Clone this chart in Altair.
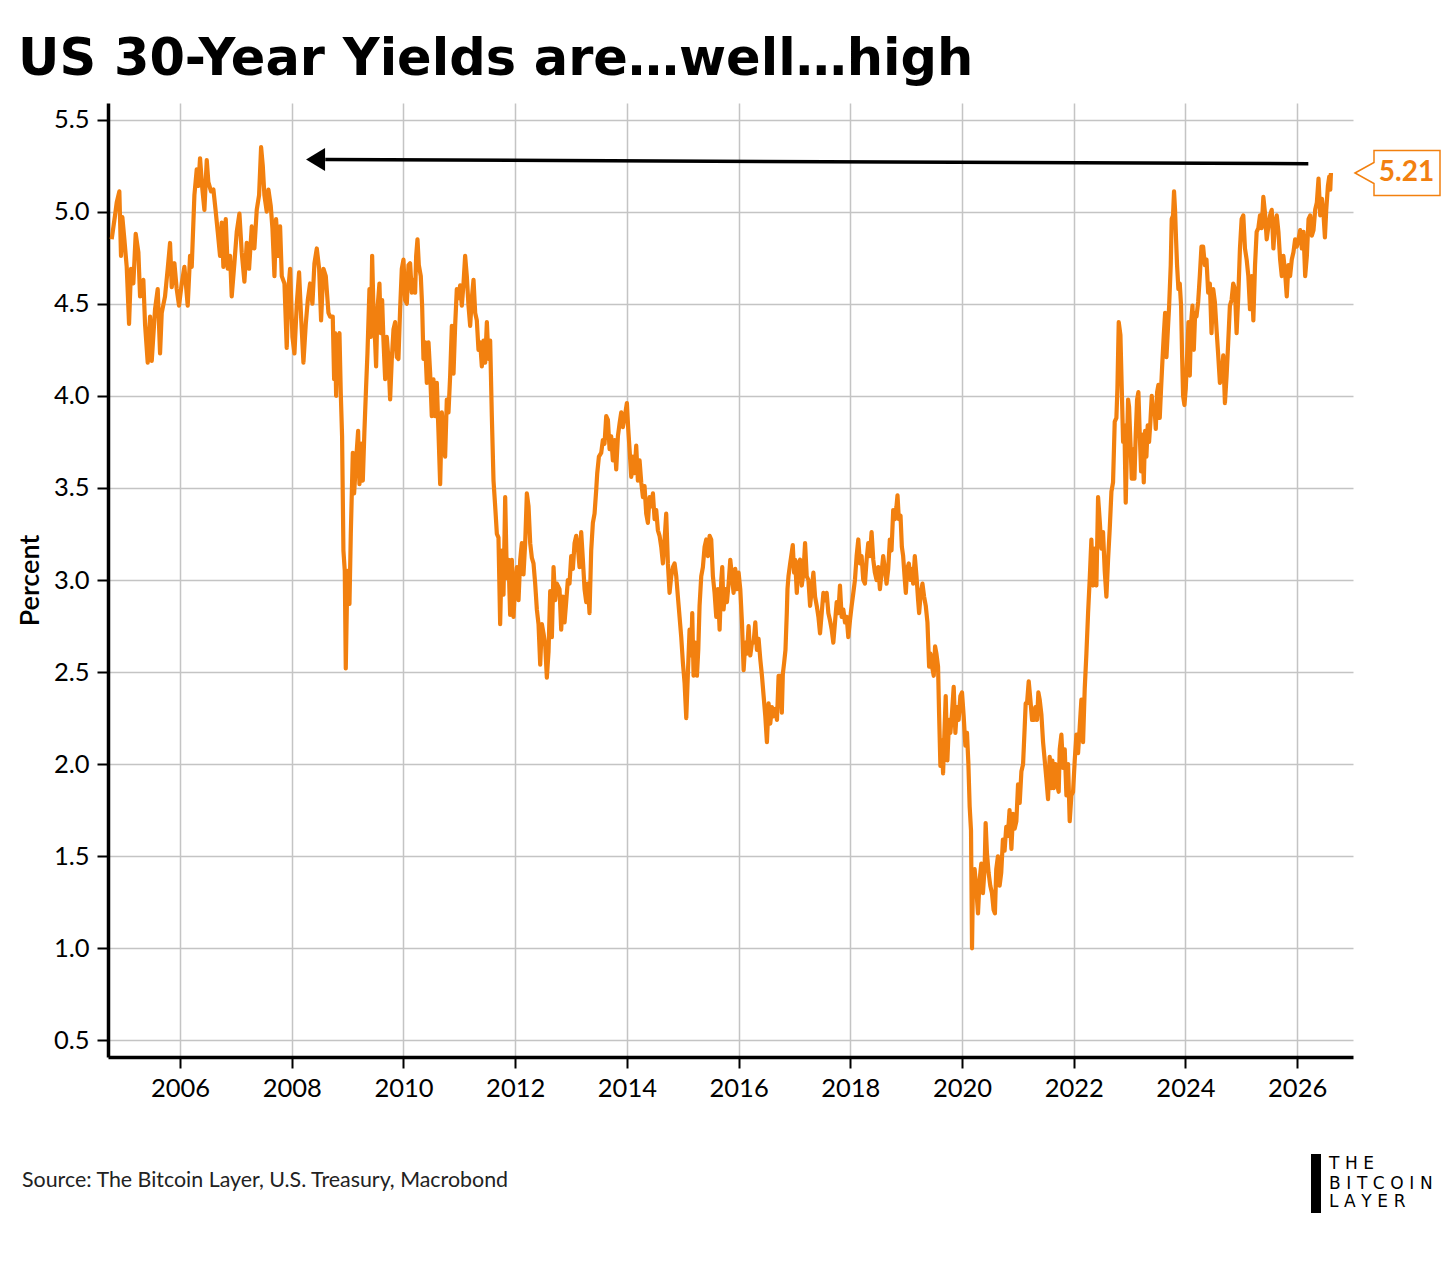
import altair as alt
import pandas as pd

TITLE = "US 30-Year Yields are\u2026well\u2026high"
Y_TITLE = "Percent"
SOURCE = "Source: The Bitcoin Layer, U.S. Treasury, Macrobond"
LOGO_LINES = ["THE", "BITCOIN", "LAYER"]

x_ticks = [2006, 2008, 2010, 2012, 2014, 2016, 2018, 2020, 2022, 2024, 2026]
y_ticks = [0.5, 1.0, 1.5, 2.0, 2.5, 3.0, 3.5, 4.0, 4.5, 5.0, 5.5]
x_domain = [2004.71, 2027.0]
y_domain = [0.41, 5.59]

# (decimal year, percent)
yields_2004_2008 = [
    (2004.776, 4.85), (2004.836, 4.98), (2004.866, 5.05), (2004.913, 5.11), (2004.943, 4.76),
    (2004.967, 4.97), (2005.003, 4.85), (2005.045, 4.70), (2005.087, 4.39), (2005.122, 4.69),
    (2005.164, 4.61), (2005.206, 4.88), (2005.254, 4.78), (2005.284, 4.54), (2005.343, 4.63),
    (2005.373, 4.39), (2005.421, 4.18), (2005.463, 4.43), (2005.493, 4.19), (2005.552, 4.47),
    (2005.600, 4.58), (2005.642, 4.23), (2005.672, 4.45), (2005.731, 4.54), (2005.779, 4.69),
    (2005.821, 4.83), (2005.851, 4.59), (2005.899, 4.72), (2005.940, 4.58), (2005.982, 4.49),
    (2006.030, 4.61), (2006.078, 4.70), (2006.137, 4.49), (2006.179, 4.76), (2006.209, 4.70),
    (2006.257, 5.09), (2006.299, 5.23), (2006.328, 5.14), (2006.358, 5.29), (2006.400, 5.12),
    (2006.436, 5.01), (2006.478, 5.28), (2006.507, 5.16), (2006.555, 5.11), (2006.597, 5.12),
    (2006.639, 5.00), (2006.675, 4.89), (2006.716, 4.76), (2006.746, 4.94), (2006.776, 4.70),
    (2006.818, 4.96), (2006.854, 4.69), (2006.896, 4.76), (2006.925, 4.54), (2006.973, 4.72),
    (2007.015, 4.89), (2007.063, 4.99), (2007.104, 4.78), (2007.152, 4.62), (2007.194, 4.83),
    (2007.236, 4.69), (2007.284, 4.92), (2007.331, 4.80), (2007.373, 5.01), (2007.415, 5.09),
    (2007.451, 5.35), (2007.481, 5.25), (2007.510, 5.09), (2007.552, 5.00), (2007.582, 5.12),
    (2007.624, 5.03), (2007.654, 4.91), (2007.690, 4.65), (2007.719, 4.96), (2007.761, 4.76),
    (2007.791, 4.92), (2007.821, 4.65), (2007.869, 4.61), (2007.910, 4.26), (2007.940, 4.58),
    (2007.970, 4.69), (2008.012, 4.32), (2008.048, 4.23), (2008.090, 4.50), (2008.131, 4.67),
    (2008.167, 4.43), (2008.209, 4.18), (2008.251, 4.39), (2008.287, 4.52), (2008.328, 4.61),
    (2008.370, 4.50), (2008.406, 4.72), (2008.448, 4.80), (2008.490, 4.69), (2008.525, 4.41),
    (2008.567, 4.69), (2008.609, 4.65), (2008.657, 4.45),
]

yields_2008_2012 = [
    (2008.687, 4.43), (2008.734, 4.43), (2008.758, 4.09), (2008.776, 4.34), (2008.794, 4.00),
    (2008.818, 4.31), (2008.854, 4.34), (2008.878, 4.01), (2008.901, 3.78), (2008.925, 3.16),
    (2008.949, 3.05), (2008.967, 2.52), (2008.997, 3.05), (2009.033, 2.87), (2009.057, 3.25),
    (2009.093, 3.69), (2009.116, 3.47), (2009.152, 3.65), (2009.188, 3.81), (2009.212, 3.52),
    (2009.242, 3.74), (2009.272, 3.54), (2009.301, 3.81), (2009.331, 4.05), (2009.355, 4.23),
    (2009.391, 4.58), (2009.415, 4.32), (2009.439, 4.76), (2009.463, 4.47), (2009.493, 4.29),
    (2009.510, 4.16), (2009.534, 4.47), (2009.570, 4.61), (2009.594, 4.34), (2009.618, 4.52),
    (2009.642, 4.30), (2009.672, 4.09), (2009.701, 4.32), (2009.731, 4.20), (2009.761, 3.98),
    (2009.791, 4.20), (2009.821, 4.36), (2009.851, 4.40), (2009.881, 4.21), (2009.910, 4.20),
    (2009.940, 4.47), (2009.970, 4.69), (2010.000, 4.74), (2010.030, 4.52), (2010.060, 4.50),
    (2010.090, 4.71), (2010.119, 4.72), (2010.149, 4.56), (2010.179, 4.63), (2010.209, 4.56),
    (2010.227, 4.76), (2010.251, 4.85), (2010.275, 4.71), (2010.310, 4.65), (2010.334, 4.49),
    (2010.358, 4.20), (2010.388, 4.29), (2010.418, 4.07), (2010.448, 4.29), (2010.478, 4.12),
    (2010.507, 3.89), (2010.537, 4.09), (2010.567, 3.89), (2010.597, 4.07), (2010.627, 3.80),
    (2010.657, 3.52), (2010.687, 3.91), (2010.716, 3.80), (2010.746, 3.67), (2010.776, 3.98),
    (2010.806, 3.91), (2010.836, 4.11), (2010.866, 4.38), (2010.896, 4.12), (2010.925, 4.38),
    (2010.955, 4.58), (2010.985, 4.53), (2011.015, 4.60), (2011.045, 4.49), (2011.075, 4.61),
    (2011.104, 4.76), (2011.134, 4.65), (2011.164, 4.49), (2011.194, 4.38), (2011.224, 4.53),
    (2011.254, 4.63), (2011.284, 4.45), (2011.313, 4.41), (2011.343, 4.25), (2011.373, 4.29),
    (2011.403, 4.16), (2011.433, 4.30), (2011.463, 4.18), (2011.493, 4.40), (2011.522, 4.20),
    (2011.552, 4.30), (2011.582, 3.89), (2011.612, 3.54), (2011.642, 3.40), (2011.672, 3.25),
    (2011.701, 3.23), (2011.731, 2.76), (2011.761, 3.16), (2011.791, 2.92), (2011.821, 3.45),
    (2011.851, 3.01), (2011.881, 3.11), (2011.910, 2.81), (2011.940, 3.11), (2011.970, 2.80),
    (2012.000, 2.98), (2012.030, 3.07), (2012.060, 2.89), (2012.090, 3.11), (2012.119, 3.20),
    (2012.149, 3.03), (2012.179, 3.20), (2012.209, 3.47), (2012.239, 3.40), (2012.269, 3.20),
    (2012.299, 3.12), (2012.328, 3.09), (2012.358, 2.98), (2012.388, 2.84), (2012.418, 2.76),
    (2012.448, 2.54), (2012.478, 2.76), (2012.507, 2.71), (2012.537, 2.65), (2012.567, 2.47),
    (2012.597, 2.61), (2012.627, 2.94), (2012.657, 2.69), (2012.687, 3.07), (2012.716, 2.89),
    (2012.746, 2.98),
]

yields_2012_2016 = [
    (2012.794, 2.95), (2012.824, 2.73), (2012.854, 2.91), (2012.884, 2.77), (2012.913, 2.88),
    (2012.943, 3.00), (2012.973, 2.98), (2013.003, 3.13), (2013.033, 3.06), (2013.063, 3.20),
    (2013.093, 3.24), (2013.122, 3.18), (2013.152, 3.07), (2013.182, 3.26), (2013.212, 3.11),
    (2013.242, 2.95), (2013.272, 2.88), (2013.301, 2.98), (2013.331, 2.82), (2013.361, 3.16),
    (2013.391, 3.31), (2013.421, 3.36), (2013.451, 3.49), (2013.469, 3.58), (2013.499, 3.67),
    (2013.540, 3.69), (2013.570, 3.76), (2013.600, 3.74), (2013.630, 3.89), (2013.660, 3.87),
    (2013.690, 3.71), (2013.719, 3.78), (2013.749, 3.65), (2013.779, 3.76), (2013.809, 3.60),
    (2013.839, 3.78), (2013.869, 3.85), (2013.899, 3.91), (2013.928, 3.83), (2013.964, 3.89),
    (2014.000, 3.96), (2014.024, 3.82), (2014.048, 3.71), (2014.078, 3.56), (2014.107, 3.67),
    (2014.137, 3.58), (2014.167, 3.73), (2014.197, 3.54), (2014.227, 3.65), (2014.257, 3.53),
    (2014.287, 3.45), (2014.316, 3.51), (2014.346, 3.36), (2014.376, 3.31), (2014.406, 3.45),
    (2014.436, 3.40), (2014.466, 3.47), (2014.496, 3.33), (2014.525, 3.38), (2014.555, 3.27),
    (2014.585, 3.24), (2014.615, 3.18), (2014.645, 3.09), (2014.675, 3.22), (2014.704, 3.36),
    (2014.734, 3.09), (2014.764, 2.93), (2014.794, 3.02), (2014.824, 3.07), (2014.854, 3.09),
    (2014.884, 3.02), (2014.913, 2.91), (2014.943, 2.80), (2014.973, 2.69), (2015.003, 2.55),
    (2015.033, 2.44), (2015.063, 2.25), (2015.093, 2.50), (2015.122, 2.73), (2015.152, 2.59),
    (2015.170, 2.82), (2015.194, 2.48), (2015.224, 2.66), (2015.254, 2.48), (2015.278, 2.62),
    (2015.301, 2.86), (2015.331, 3.02), (2015.361, 3.07), (2015.391, 3.18), (2015.421, 3.22),
    (2015.451, 3.13), (2015.481, 3.24), (2015.510, 3.22), (2015.540, 3.02), (2015.570, 2.93),
    (2015.600, 2.80), (2015.630, 2.95), (2015.660, 2.73), (2015.690, 3.00), (2015.707, 3.07),
    (2015.731, 2.84), (2015.761, 2.95), (2015.791, 2.88), (2015.821, 2.98), (2015.851, 3.11),
    (2015.881, 3.02), (2015.910, 2.93), (2015.940, 3.06), (2015.970, 2.95), (2016.000, 3.04),
    (2016.030, 2.95), (2016.060, 2.77), (2016.090, 2.51), (2016.119, 2.66), (2016.149, 2.60),
    (2016.179, 2.75), (2016.209, 2.59), (2016.239, 2.66), (2016.269, 2.66), (2016.299, 2.77),
    (2016.328, 2.62), (2016.358, 2.68), (2016.388, 2.57), (2016.418, 2.48), (2016.448, 2.37),
    (2016.478, 2.26), (2016.507, 2.12), (2016.537, 2.33), (2016.567, 2.22), (2016.597, 2.31),
    (2016.627, 2.26), (2016.657, 2.30), (2016.687, 2.24), (2016.716, 2.48), (2016.746, 2.48),
]

yields_2016_2020 = [
    (2016.774, 2.28), (2016.792, 2.49), (2016.815, 2.55), (2016.839, 2.62), (2016.863, 2.82),
    (2016.875, 2.95), (2016.893, 3.02), (2016.923, 3.09), (2016.952, 3.15), (2016.970, 3.19),
    (2016.994, 3.04), (2017.012, 3.11), (2017.042, 2.93), (2017.071, 3.09), (2017.101, 3.11),
    (2017.131, 2.97), (2017.161, 3.04), (2017.190, 3.20), (2017.220, 3.02), (2017.250, 3.00),
    (2017.280, 2.86), (2017.310, 2.95), (2017.339, 3.04), (2017.369, 2.91), (2017.399, 2.86),
    (2017.429, 2.80), (2017.458, 2.71), (2017.488, 2.82), (2017.518, 2.93), (2017.548, 2.89),
    (2017.577, 2.93), (2017.607, 2.82), (2017.637, 2.78), (2017.667, 2.73), (2017.696, 2.66),
    (2017.726, 2.77), (2017.756, 2.88), (2017.786, 2.82), (2017.815, 2.97), (2017.845, 2.80),
    (2017.875, 2.84), (2017.905, 2.77), (2017.935, 2.80), (2017.964, 2.69), (2017.994, 2.78),
    (2018.024, 2.86), (2018.054, 2.93), (2018.083, 3.00), (2018.113, 3.13), (2018.143, 3.22),
    (2018.173, 3.09), (2018.202, 3.13), (2018.232, 3.00), (2018.262, 2.98), (2018.292, 3.11),
    (2018.321, 3.20), (2018.351, 3.13), (2018.381, 3.26), (2018.411, 3.11), (2018.440, 3.04),
    (2018.470, 3.00), (2018.500, 3.07), (2018.530, 2.95), (2018.560, 3.04), (2018.589, 3.13),
    (2018.619, 3.06), (2018.649, 2.98), (2018.679, 3.06), (2018.708, 3.22), (2018.738, 3.16),
    (2018.768, 3.38), (2018.798, 3.33), (2018.827, 3.40), (2018.845, 3.46), (2018.869, 3.33),
    (2018.899, 3.35), (2018.923, 3.18), (2018.946, 3.13), (2018.976, 3.00), (2018.994, 2.93),
    (2019.018, 3.06), (2019.048, 3.09), (2019.077, 3.00), (2019.107, 3.06), (2019.125, 2.98),
    (2019.155, 3.13), (2019.185, 3.02), (2019.214, 2.89), (2019.232, 2.82), (2019.262, 2.93),
    (2019.292, 2.98), (2019.321, 2.91), (2019.351, 2.86), (2019.381, 2.77), (2019.411, 2.53),
    (2019.435, 2.60), (2019.464, 2.53), (2019.494, 2.48), (2019.518, 2.64), (2019.542, 2.60),
    (2019.571, 2.53), (2019.589, 2.28), (2019.613, 1.99), (2019.637, 2.13), (2019.661, 1.95),
    (2019.685, 2.17), (2019.708, 2.37), (2019.738, 2.02), (2019.768, 2.24), (2019.792, 2.17),
    (2019.821, 2.28), (2019.851, 2.42), (2019.881, 2.17), (2019.911, 2.31), (2019.940, 2.24),
    (2019.970, 2.37), (2020.000, 2.39), (2020.030, 2.26), (2020.060, 2.10), (2020.089, 2.17),
    (2020.113, 2.01), (2020.137, 1.77), (2020.161, 1.64), (2020.179, 1.00), (2020.196, 1.37),
    (2020.226, 1.43), (2020.256, 1.32), (2020.286, 1.19), (2020.315, 1.37), (2020.345, 1.46),
    (2020.375, 1.30), (2020.405, 1.44), (2020.423, 1.68), (2020.446, 1.52), (2020.476, 1.41),
    (2020.506, 1.34), (2020.536, 1.30), (2020.565, 1.21), (2020.589, 1.19), (2020.613, 1.43),
    (2020.643, 1.50), (2020.673, 1.34), (2020.702, 1.41), (2020.732, 1.59), (2020.762, 1.53),
    (2020.792, 1.66), (2020.821, 1.61), (2020.851, 1.75),
]

yields_2020_2023 = [
    (2020.884, 1.54), (2020.913, 1.73), (2020.943, 1.65), (2020.973, 1.69), (2021.003, 1.89),
    (2021.033, 1.79), (2021.063, 1.96), (2021.093, 2.00), (2021.122, 2.20), (2021.140, 2.33),
    (2021.164, 2.33), (2021.194, 2.45), (2021.224, 2.35), (2021.254, 2.24), (2021.284, 2.24),
    (2021.313, 2.31), (2021.343, 2.24), (2021.367, 2.39), (2021.391, 2.35), (2021.421, 2.27),
    (2021.451, 2.12), (2021.481, 2.02), (2021.510, 1.92), (2021.540, 1.81), (2021.570, 2.04),
    (2021.600, 1.87), (2021.618, 2.02), (2021.642, 1.87), (2021.672, 2.00), (2021.701, 1.89),
    (2021.731, 1.85), (2021.749, 2.08), (2021.779, 2.16), (2021.809, 1.98), (2021.839, 2.08),
    (2021.869, 1.83), (2021.899, 2.00), (2021.928, 1.69), (2021.958, 1.83), (2021.988, 1.85),
    (2022.018, 2.02), (2022.048, 2.16), (2022.078, 2.06), (2022.107, 2.20), (2022.137, 2.35),
    (2022.167, 2.12), (2022.197, 2.41), (2022.227, 2.60), (2022.257, 2.82), (2022.287, 3.01),
    (2022.316, 3.22), (2022.346, 2.97), (2022.376, 3.17), (2022.406, 2.97), (2022.436, 3.45),
    (2022.466, 3.32), (2022.496, 3.17), (2022.525, 3.26), (2022.555, 3.05), (2022.585, 2.91),
    (2022.615, 3.11), (2022.645, 3.28), (2022.675, 3.48), (2022.704, 3.53), (2022.734, 3.86),
    (2022.764, 3.88), (2022.782, 4.04), (2022.806, 4.40), (2022.836, 4.33), (2022.860, 4.04),
    (2022.884, 3.75), (2022.907, 3.84), (2022.931, 3.42), (2022.955, 3.75), (2022.973, 3.98),
    (2022.991, 3.94), (2023.015, 3.75), (2023.039, 3.55), (2023.063, 3.71), (2023.087, 3.55),
    (2023.110, 3.79), (2023.134, 3.98), (2023.158, 4.02), (2023.182, 3.79), (2023.206, 3.59),
    (2023.230, 3.79), (2023.254, 3.53), (2023.278, 3.81), (2023.301, 3.67), (2023.325, 3.84),
    (2023.349, 3.75), (2023.373, 3.86), (2023.397, 4.00), (2023.421, 3.92), (2023.445, 3.94),
    (2023.469, 3.82), (2023.493, 4.02), (2023.516, 4.06), (2023.540, 3.88), (2023.564, 4.04),
    (2023.588, 4.19), (2023.612, 4.33), (2023.636, 4.45), (2023.660, 4.21), (2023.684, 4.35),
    (2023.707, 4.48),
]

yields_2023_2026 = [
    (2023.737, 4.71), (2023.754, 4.96), (2023.778, 4.98), (2023.796, 5.11), (2023.814, 5.01),
    (2023.832, 4.85), (2023.850, 4.71), (2023.874, 4.58), (2023.898, 4.61), (2023.922, 4.49),
    (2023.940, 4.22), (2023.958, 4.00), (2023.982, 3.95), (2024.006, 4.04), (2024.030, 4.22),
    (2024.054, 4.40), (2024.078, 4.11), (2024.102, 4.40), (2024.126, 4.49), (2024.150, 4.25),
    (2024.174, 4.45), (2024.198, 4.43), (2024.228, 4.51), (2024.257, 4.65), (2024.287, 4.81),
    (2024.317, 4.81), (2024.347, 4.71), (2024.377, 4.74), (2024.407, 4.56), (2024.437, 4.61),
    (2024.467, 4.34), (2024.497, 4.58), (2024.527, 4.51), (2024.557, 4.36), (2024.587, 4.22),
    (2024.617, 4.07), (2024.647, 4.09), (2024.677, 4.22), (2024.707, 3.96), (2024.737, 4.11),
    (2024.766, 4.29), (2024.796, 4.49), (2024.826, 4.52), (2024.856, 4.61), (2024.886, 4.58),
    (2024.916, 4.34), (2024.946, 4.54), (2024.976, 4.80), (2025.006, 4.96), (2025.036, 4.98),
    (2025.066, 4.80), (2025.096, 4.74), (2025.126, 4.65), (2025.156, 4.47), (2025.186, 4.65),
    (2025.216, 4.41), (2025.246, 4.71), (2025.275, 4.89), (2025.305, 4.91), (2025.335, 4.98),
    (2025.365, 4.91), (2025.395, 5.08), (2025.425, 4.99), (2025.455, 4.85), (2025.485, 4.92),
    (2025.515, 4.98), (2025.545, 5.01), (2025.575, 4.80), (2025.605, 4.94), (2025.635, 4.98),
    (2025.665, 4.89), (2025.695, 4.74), (2025.725, 4.65), (2025.754, 4.76), (2025.784, 4.67),
    (2025.814, 4.54), (2025.844, 4.71), (2025.874, 4.65), (2025.904, 4.74), (2025.934, 4.78),
    (2025.964, 4.85), (2025.994, 4.81), (2026.024, 4.85), (2026.054, 4.90), (2026.084, 4.80),
    (2026.114, 4.89), (2026.144, 4.65), (2026.174, 4.76), (2026.204, 4.96), (2026.234, 4.98),
    (2026.263, 4.87), (2026.293, 4.90), (2026.323, 5.01), (2026.353, 5.05), (2026.383, 5.18),
    (2026.413, 4.98), (2026.443, 5.07), (2026.473, 4.98), (2026.497, 4.86), (2026.521, 5.01),
    (2026.551, 5.14), (2026.575, 5.19), (2026.593, 5.12), (2026.605, 5.21),
]

# arrow annotation (data coordinates)
arrow_start = (2026.20, 5.260)
arrow_end = (2008.60, 5.283)
arrow_tip = (2008.462, 5.283)

ORANGE = "#F2800F"
FONT = "Lato"

points = (yields_2004_2008 + yields_2008_2012 + yields_2012_2016 +
          yields_2016_2020 + yields_2020_2023 + yields_2023_2026)
df = pd.DataFrame(points, columns=["year", "pct"])
last_value = yields_2023_2026[-1][1]

# plot origin on the page is (108, 103) -> offsets below are relative to it
OX, OY = 108, 103
W, H = 1245, 954

xscale = alt.Scale(domain=x_domain, nice=False, zero=False)
yscale = alt.Scale(domain=y_domain, nice=False, zero=False)

base_x = alt.X("year:Q", scale=xscale,
               axis=alt.Axis(values=x_ticks, format="d", title=None, labelFontSize=25.5,
                             labelFont=FONT, labelColor="black", labelPadding=8,
                             tickSize=11, tickWidth=2, tickColor="black",
                             domainColor="black", domainWidth=3.5,
                             grid=True, gridColor="#c4c4c4", gridWidth=1.5,
                             labelFlush=False))
base_y = alt.Y("pct:Q", scale=yscale,
               axis=alt.Axis(values=y_ticks, format=".1f", title=Y_TITLE, titleFont=FONT,
                             titleFontSize=27, titleFontWeight=600, titleColor="black",
                             titlePadding=9, labelFontSize=25.5, labelFont=FONT,
                             labelColor="black", labelPadding=8, tickSize=11, tickWidth=2,
                             tickColor="black", domainColor="black", domainWidth=3.5,
                             grid=True, gridColor="#c4c4c4", gridWidth=1.5,
                             labelFlush=False))

line = alt.Chart(df).mark_line(color=ORANGE, strokeWidth=4.2, strokeJoin="round").encode(
    x=base_x, y=base_y)

arrow_df = pd.DataFrame([{"x": arrow_start[0], "y": arrow_start[1],
                          "x2": arrow_end[0], "y2": arrow_end[1]}])
arrow_line = alt.Chart(arrow_df).mark_rule(color="black", strokeWidth=3.5).encode(
    x=alt.X("x:Q", scale=xscale), x2="x2:Q",
    y=alt.Y("y:Q", scale=yscale), y2="y2:Q")

tip_df = pd.DataFrame([{"x": arrow_tip[0], "y": arrow_tip[1]}])
arrow_head = alt.Chart(tip_df).mark_point(
    shape="M -1 0 L 0.65 -1 L 0.65 1 Z", size=529, filled=True, color="black",
    opacity=1).encode(x=alt.X("x:Q", scale=xscale), y=alt.Y("y:Q", scale=yscale))

tag_df = pd.DataFrame([{"y": last_value, "label": f"{last_value:.2f}"}])
tag_box = alt.Chart(tag_df).mark_point(
    shape="M -1 0 L -0.553 -0.247 L -0.553 -0.53 L 1 -0.53 L 1 0.53 L -0.553 0.53 L -0.553 0.247 Z",
    size=7225, filled=True, fill="white", stroke=ORANGE, strokeWidth=1.5, opacity=1,
    fillOpacity=1).encode(x=alt.value(1397.5 - OX), y=alt.Y("y:Q", scale=yscale))
tag_text = alt.Chart(tag_df).mark_text(
    font=FONT, fontSize=28, fontWeight="bold", color=ORANGE, align="center",
    baseline="middle").encode(x=alt.value(1406.5 - OX), y=alt.Y("y:Q", scale=yscale),
                              text="label:N")

one = pd.DataFrame([{"a": 1}])
title_text = alt.Chart(one).mark_text(
    text=TITLE, font="DejaVu Sans", fontSize=51, fontWeight="bold", color="black",
    align="left", baseline="alphabetic").encode(x=alt.value(18 - OX), y=alt.value(75 - OY))
source_text = alt.Chart(one).mark_text(
    text=SOURCE, font=FONT, fontSize=21.4, color="#222222", align="left",
    baseline="alphabetic").encode(x=alt.value(22 - OX), y=alt.value(1187 - OY))

logo_bar = alt.Chart(one).mark_rect(color="black").encode(
    x=alt.value(1311 - OX), x2=alt.value(1321 - OX),
    y=alt.value(1154 - OY), y2=alt.value(1213 - OY))
logo_df = pd.DataFrame({"t": ["\u2004".join(s) for s in LOGO_LINES],
                        "yy": [1169 - OY, 1189 - OY, 1207 - OY]})
logo_text = alt.Chart(logo_df).mark_text(
    font="DejaVu Sans", fontSize=17, color="black", align="left",
    baseline="alphabetic").encode(
    x=alt.value(1329 - OX), y=alt.Y("yy:Q", scale=None), text="t:N")

chart = alt.layer(
    line, arrow_line, arrow_head, tag_box, tag_text,
    title_text, source_text, logo_bar, logo_text
).properties(
    width=W, height=H,
    padding={"left": OX - 8, "top": OY - 8, "right": 1440 - (OX - 8) - W,
             "bottom": 1246 - (OY - 8) - H},
    autosize=alt.AutoSizeParams(type="none"),
    background="white",
).configure_view(stroke=None)

chart.save("out.html", embed_options={"renderer": "svg", "actions": False})
